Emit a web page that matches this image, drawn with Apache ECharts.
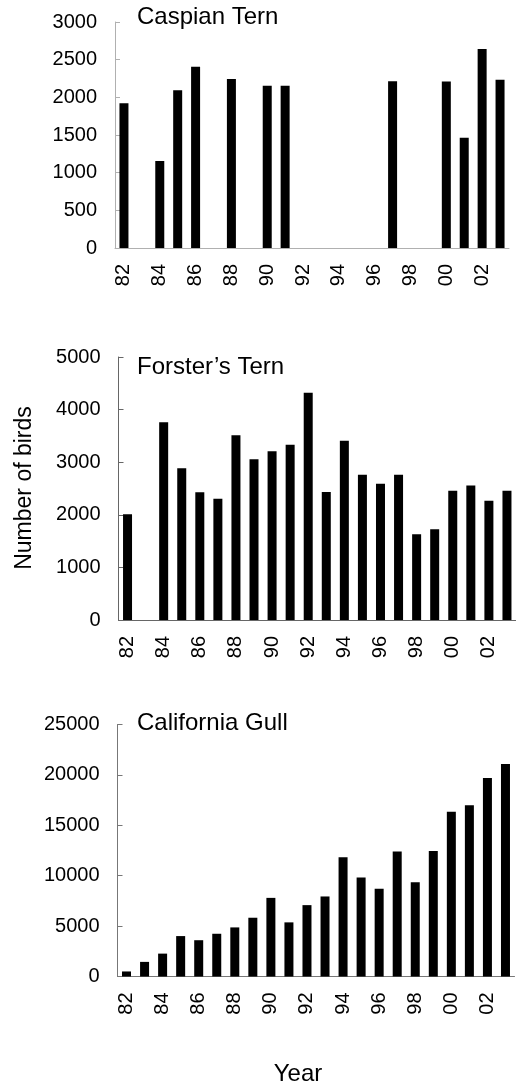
<!DOCTYPE html>
<html>
<head>
<meta charset="utf-8">
<script src="https://cdn.jsdelivr.net/npm/echarts@6/dist/echarts.min.js"></script>
<style>
  html, body { margin: 0; padding: 0; background: #fff; }
  #chart { width: 516px; height: 1086px; }
</style>
</head>
<body>
<div id="chart"></div>
<script>
// year labels 1982..2003
var years = ['82','83','84','85','86','87','88','89','90','91','92','93','94','95','96','97','98','99','00','01','02','03'];

// birds counted per year
var caspianTern = [1920, 0, 1155, 2095, 2405, 0, 2245, 0, 2155, 2155, 0, 0, 0, 0, 0, 2215, 0, 0, 2210, 1462, 2640, 2235];
var forstersTern = [2010, 0, 3760, 2885, 2430, 2305, 3510, 3055, 3210, 3330, 4320, 2435, 3410, 2760, 2590, 2760, 1630, 1725, 2455, 2555, 2265, 2455];
var californiaGull = [500, 1450, 2270, 4010, 3600, 4240, 4870, 5830, 7800, 5370, 7080, 7940, 11830, 9810, 8700, 12390, 9350, 12450, 16340, 17000, 19700, 21080];

var panelTitles = ['Caspian Tern', 'Forster\u2019s Tern', 'California Gull'];
var yMax = [3000, 5000, 25000];
var yStep = [500, 1000, 5000];

var FONT = '"Liberation Sans", Arial, sans-serif';

var myChart = echarts.init(document.getElementById('chart'));

var grids = [
  { left: 115, width: 394, top: 22, height: 226 },
  { left: 118.5, width: 404, top: 357, height: 263 },
  { left: 117.5, width: 397, top: 724.5, height: 252 }
];
var axisColor = ['#b0b0b0', '#666', '#777'];
var seriesData = [caspianTern, forstersTern, californiaGull];

var xAxes = [], yAxes = [], series = [];
grids.forEach(function (g, i) {
  xAxes.push({
    type: 'category',
    gridIndex: i,
    data: years,
    axisLine: { lineStyle: { color: axisColor[i], width: 1 } },
    axisTick: { interval: 0, length: 4, lineStyle: { color: axisColor[i] } },
    axisLabel: { interval: 1, rotate: 90, fontSize: 20, margin: 16, color: '#000', fontFamily: FONT }
  });
  yAxes.push({
    type: 'value',
    gridIndex: i,
    min: 0,
    max: yMax[i],
    interval: yStep[i],
    splitLine: { show: false },
    axisLine: { show: true, lineStyle: { color: axisColor[i], width: 1 } },
    axisTick: { show: true, inside: true, length: 5, lineStyle: { color: axisColor[i] } },
    axisLabel: {
      fontSize: 20, margin: 18, color: '#000', fontFamily: FONT,
      formatter: function (v) { return String(v); }
    }
  });
  series.push({
    type: 'bar',
    xAxisIndex: i,
    yAxisIndex: i,
    data: seriesData[i],
    barWidth: 9,
    itemStyle: { color: '#000' },
    animation: false
  });
});

var titleY = [17, 367, 723];
var graphics = panelTitles.map(function (t, i) {
  return {
    type: 'text',
    x: 137,
    y: titleY[i],
    style: { text: t, font: '24px ' + FONT, fill: '#000', verticalAlign: 'middle' }
  };
});
graphics.push({
  type: 'text',
  x: 25,
  y: 488,
  rotation: Math.PI / 2,
  style: { text: 'Number of birds', font: '23px ' + FONT, fill: '#000', align: 'center', verticalAlign: 'middle' }
});
graphics.push({
  type: 'text',
  x: 298,
  y: 1074,
  style: { text: 'Year', font: '24px ' + FONT, fill: '#000', align: 'center', verticalAlign: 'middle' }
});

option = {
  animation: false,
  grid: grids,
  xAxis: xAxes,
  yAxis: yAxes,
  series: series,
  graphic: graphics
};

myChart.setOption(option);
</script>
</body>
</html>
